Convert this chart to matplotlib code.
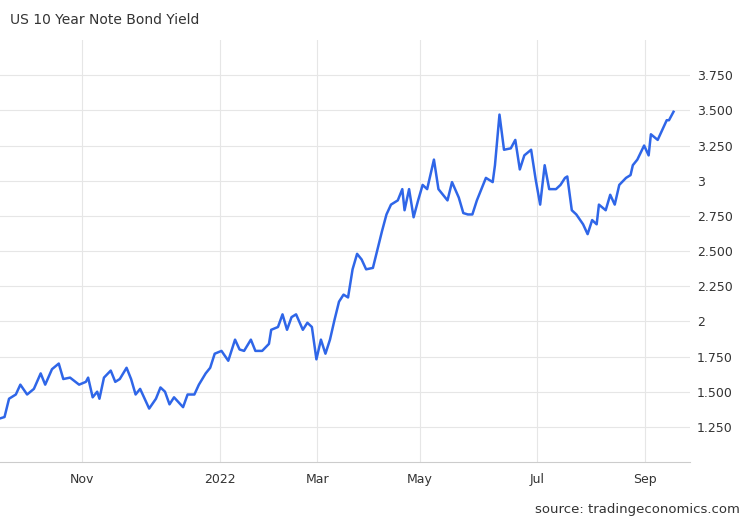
import matplotlib
matplotlib.use("Agg")
import matplotlib.pyplot as plt

# x: position along the (trading-session based) time axis, in axis units
day_offsets = [0,2,4,7,9,12,15,18,20,23,26,28,31,35,38,39,41,43,44,46,
 49,51,53,56,58,60,62,64,66,69,71,73,75,77,81,83,86,88,91,93,
 95,98,101,104,106,108,111,113,116,119,120,123,125,127,129,131,134,136,138,140,
 142,144,146,148,150,152,154,156,158,160,162,165,167,169,171,173,176,178,179,181,
 183,185,187,189,192,194,196,198,200,203,205,207,209,211,213,215,218,219,221,223,
 226,228,230,232,235,237,239,241,243,246,248,250,251,253,255,258,260,262,264,265,
 268,270,272,274,277,279,280,282,285,287,288,291,293,295,296,298]
yields = [1.31,1.32,1.45,1.48,1.55,1.48,1.52,1.63,1.55,1.66,
 1.70,1.59,1.60,1.55,1.57,1.60,1.46,1.50,1.45,1.60,
 1.65,1.57,1.59,1.67,1.59,1.48,1.52,1.45,1.38,1.45,
 1.53,1.50,1.41,1.46,1.39,1.48,1.48,1.55,1.63,1.67,
 1.77,1.79,1.72,1.87,1.80,1.79,1.87,1.79,1.79,1.84,
 1.94,1.96,2.05,1.94,2.03,2.05,1.94,1.99,1.96,1.73,
 1.87,1.77,1.87,2.01,2.14,2.19,2.17,2.37,2.48,2.44,
 2.37,2.38,2.51,2.64,2.76,2.83,2.86,2.94,2.79,2.94,
 2.74,2.86,2.97,2.94,3.15,2.94,2.90,2.86,2.99,2.88,
 2.77,2.76,2.76,2.86,2.94,3.02,2.99,3.11,3.47,3.22,
 3.23,3.29,3.08,3.18,3.22,3.01,2.83,3.11,2.94,2.94,
 2.97,3.02,3.03,2.79,2.76,2.69,2.62,2.72,2.69,2.83,
 2.79,2.90,2.83,2.97,3.02,3.04,3.11,3.15,3.25,3.18,
 3.33,3.29,3.36,3.43,3.43,3.49]
ytick_vals = [1.25,1.5,1.75,2.0,2.25,2.5,2.75,3.0,3.25,3.5,3.75]
ytick_labels = ["1.250","1.500","1.750","2","2.250","2.500","2.750","3","3.250","3.500","3.750"]
xtick_pos = [36.3, 97.3, 140.3, 185.8, 237.6, 285.4]
xtick_labels = ["Nov","2022","Mar","May","Jul","Sep"]

fig = plt.figure(figsize=(7.5,5.2), dpi=100)
ax = fig.add_axes([0.0, 0.1115, 0.92, 0.8115])
ax.plot(day_offsets, yields, color="#2f66e8", lw=1.8)
ax.set_ylim(1.0, 4.0)
ax.set_xlim(0, 305.3)
ax.yaxis.tick_right()
ax.set_yticks(ytick_vals)
ax.set_yticklabels(ytick_labels)
ax.set_xticks(xtick_pos)
ax.set_xticklabels(xtick_labels)
ax.grid(True, color="#e6e6e6", lw=0.8)
ax.set_axisbelow(True)
for s in ["top","right","left"]:
    ax.spines[s].set_visible(False)
ax.spines["bottom"].set_color("#cccccc")
ax.tick_params(length=0, labelsize=9, colors="#333333", pad=8)
ax.tick_params(axis="y", pad=5)
fig.text(10/750, 1-20/520, "US 10 Year Note Bond Yield", fontsize=10, color="#333333", va="center")
fig.text(740/750, 1-509/520, "source: tradingeconomics.com", fontsize=9.5, color="#333333", va="center", ha="right")
fig.savefig("out.png", dpi=100, facecolor="white")
